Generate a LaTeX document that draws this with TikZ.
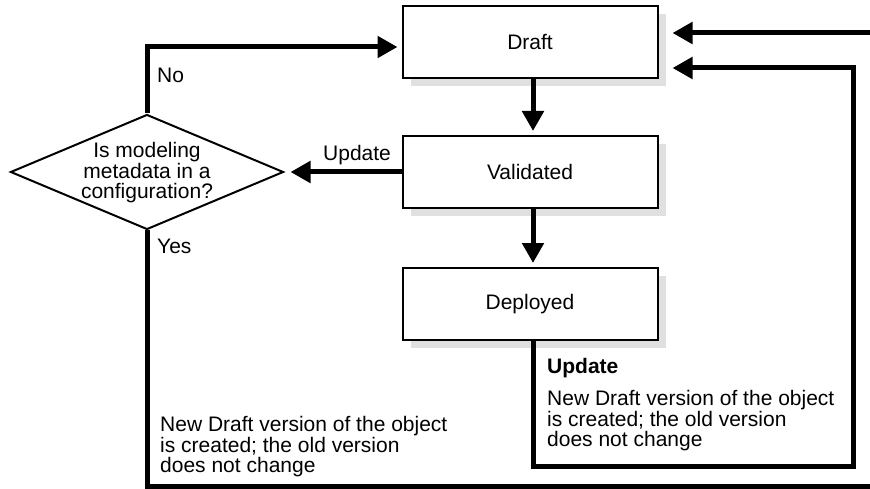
\documentclass[tikz,border=0pt]{standalone}
\usepackage{fontspec}
\setmainfont{Liberation Sans}
\usetikzlibrary{arrows.meta,shapes.geometric,shadows}

\begin{document}
\begin{tikzpicture}[x=1pt, y=-1pt,
  every node/.style={font=\fontsize{21}{20.5}\selectfont},
  state/.style={draw, line width=2pt, fill=white, minimum width=255pt, minimum height=72pt,
    drop shadow={shadow xshift=8pt, shadow yshift=-8pt, fill=black!12, opacity=1}},
  decision/.style={draw, diamond, line width=2pt, minimum width=273pt, minimum height=115pt, inner sep=0pt},
  flow/.style={line width=5pt, -{Triangle[length=20pt,width=21pt]}, shorten >=4pt},
  note/.style={align=left, inner sep=0pt, anchor=west}]
\useasboundingbox (0,0) rectangle (870,489);
\node[state] (Draft) at (530,42) {Draft};
\node[state] (Validated) at (530,172) {Validated};
\node[state] (Deployed) at (530,304) {Deployed};
\node[decision] (Decide) at (147,172) {};
\node[align=center, inner sep=0pt] (DecideText) at (147,173) {Is modeling\\metadata in a\\configuration?};
\node[note] (NoLabel) at (157,75) {No};
\node[note] (YesLabel) at (157,246) {Yes};
\node[note] (UpdateLabel) at (323,155) {Update};
\node[note] (LeftNote) at (160,447) {New Draft version of the object\\is created; the old version\\does not change};
\node[note, font=\fontsize{21}{20.5}\selectfont\bfseries] (UpdateTitle) at (547,368) {Update};
\node[note] (RightNote) at (547,421) {New Draft version of the object\\is created; the old version\\does not change};
\coordinate (LeftEnd) at (870,486.5);
\coordinate (TopEnd) at (870,33);
\coordinate (LoopCorner) at (853,466);
\draw[flow] ([xshift=3pt]Draft.south) -- ([xshift=3pt]Validated.north);
\draw[flow] ([xshift=3pt]Validated.south) -- ([xshift=3pt]Deployed.north);
\draw[flow, shorten >=6pt] (Validated.west) -- (Decide.east);
\draw[flow] (Decide.north) |- ([yshift=-5pt]Draft.west);
\draw[line width=5pt] (Decide.south) |- (LeftEnd);
\draw[flow, shorten >=14pt] (TopEnd) -- (TopEnd -| Draft.east);
\draw[flow, shorten >=14pt] ([xshift=3pt]Deployed.south) |- (LoopCorner) |- ([yshift=-26pt]Draft.east);
\end{tikzpicture}
\end{document}
